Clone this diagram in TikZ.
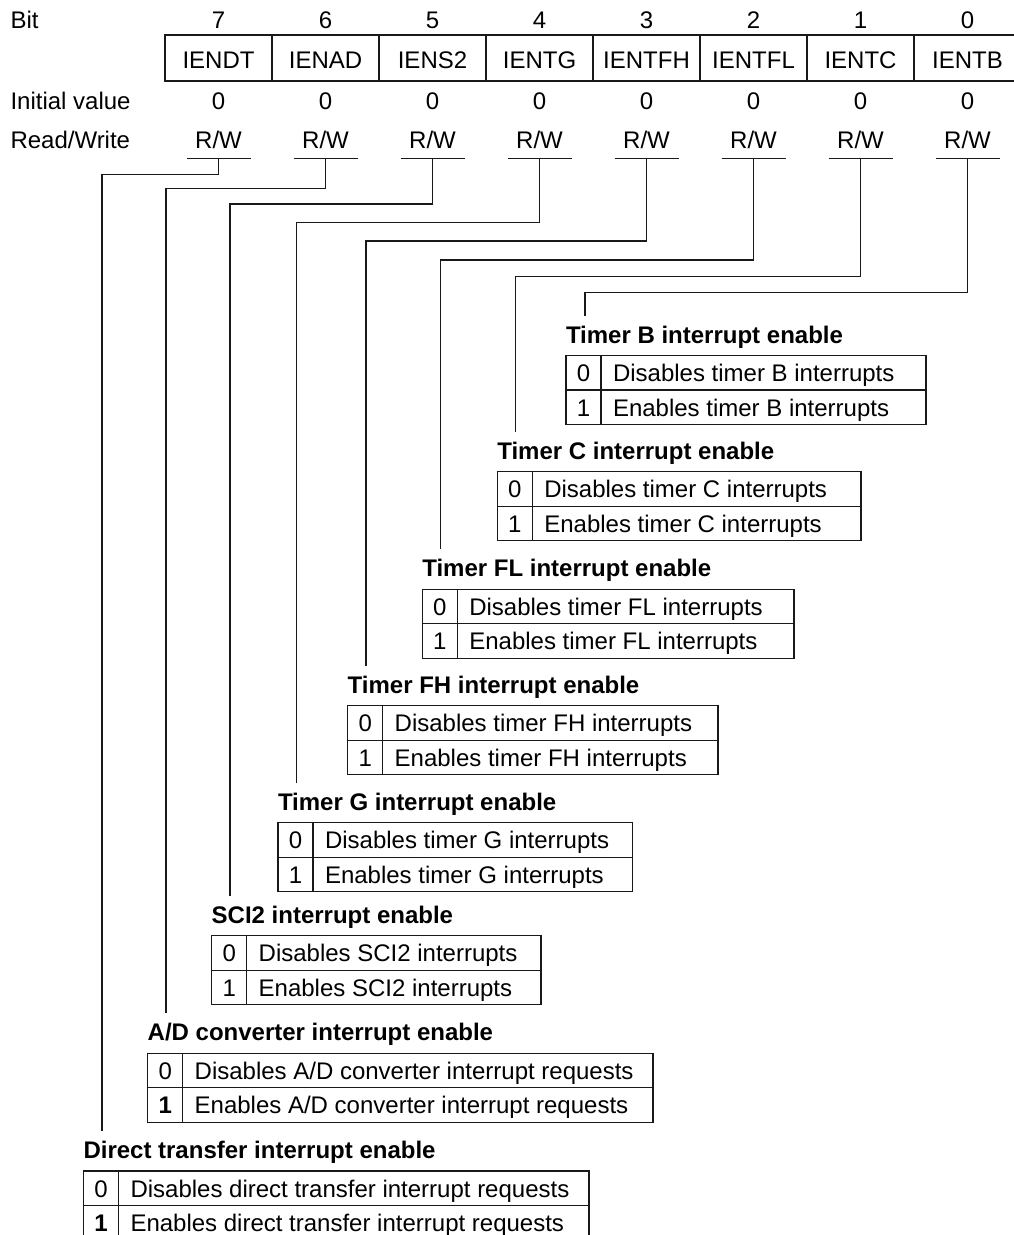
\documentclass[tikz,border=0pt]{standalone}
\usepackage{fontspec}
\setmainfont{Liberation Sans}
\begin{document}
\begin{tikzpicture}[x=1pt,y=-1pt,
  ln/.style={line width=1.2pt,black!90},
  txt/.style={inner sep=0pt,outer sep=0pt,font=\fontsize{24}{28}\selectfont},
  ttl/.style={inner sep=0pt,outer sep=0pt,font=\fontsize{24}{28}\selectfont\bfseries},
  conn/.style={line width=1.2pt,black!90}]
\useasboundingbox (0,0) rectangle (1014,1235);
% register header
\node[txt,anchor=base west] (lbit) at (10.5,28.5) {Bit};
\node[txt,anchor=base west] (linit) at (10.5,109) {Initial value};
\node[txt,anchor=base west] (lrw) at (10.5,148.3) {Read/Write};
\draw[ln] (1014,35) -- (165,35) -- (165,81) -- (1014,81);
\foreach \k in {1,...,7} \draw[ln] (165+107*\k,35) -- (165+107*\k,81);
\foreach \b/\nm [count=\i from 0] in {7/IENDT,6/IENAD,5/IENS2,4/IENTG,3/IENTFH,2/IENTFL,1/IENTC,0/IENTB}{
  \node[txt,anchor=base] (bn\b) at (218.5+107*\i,28.5) {\b};
  \node[txt,anchor=base] (nm\b) at (218.5+107*\i,68.3) {\nm};
  \node[txt,anchor=base] (iv\b) at (218.5+107*\i,109) {0};
  \node[txt,anchor=base] (rw\b) at (218.5+107*\i,148.3) {R/W};
  \draw[ln] (218.5+107*\i-32,158.3) -- (218.5+107*\i+32,158.3);
  \coordinate (u\b) at (218.5+107*\i,158.3);
}
% tables: name, left, top, right, title, row0, row1, one-format
\newcommand\itable[8]{%
  \node[ttl,anchor=base west] (#1t) at (#2,#3-12.5) {#5};
  \draw[ln] (#2,#3) rectangle (#4,#3+69);
  \draw[ln] (#2,#3+34.5) -- (#4,#3+34.5);
  \draw[ln] (#2+35,#3) -- (#2+35,#3+69);
  \node[txt,anchor=base] (#1z) at (#2+17.5,#3+26) {0};
  \node[txt,anchor=base] (#1o) at (#2+17.5,#3+60.5) {#8{1}};
  \node[txt,anchor=base west] (#1a) at (#2+47,#3+26) {#6};
  \node[txt,anchor=base west] (#1b) at (#2+47,#3+60.5) {#7};
}
\itable{t7}{83.5}{1171}{589}{Direct transfer interrupt enable}{Disables direct transfer interrupt requests}{Enables direct transfer interrupt requests}{\bfseries}
\itable{t6}{147.7}{1053.3}{653}{A/D converter interrupt enable}{Disables A/D converter interrupt requests}{Enables A/D converter interrupt requests}{\bfseries}
\itable{t5}{211.7}{935.7}{541}{SCI2 interrupt enable}{Disables SCI2 interrupts}{Enables SCI2 interrupts}{}
\itable{t4}{278}{822.7}{632.5}{Timer G interrupt enable}{Disables timer G interrupts}{Enables timer G interrupts}{}
\itable{t3}{347.7}{705.7}{718}{Timer FH interrupt enable}{Disables timer FH interrupts}{Enables timer FH interrupts}{}
\itable{t2}{422.3}{589.3}{794}{Timer FL interrupt enable}{Disables timer FL interrupts}{Enables timer FL interrupts}{}
\itable{t1}{497.3}{471.7}{861}{Timer C interrupt enable}{Disables timer C interrupts}{Enables timer C interrupts}{}
\itable{t0}{566}{355.5}{926}{Timer B interrupt enable}{Disables timer B interrupts}{Enables timer B interrupts}{}
% connectors: bit / vertical x / horizontal y / end y
\foreach \b/\vx/\hy/\ey in {7/102/174.3/1131, 6/166/188.3/1013.3, 5/230/204/895.7, 4/296.7/222.7/782.7,
  3/366/241/665.7, 2/440.7/260/549.3, 1/515.7/276.7/431.7, 0/585/292.7/315.5}{
  \coordinate (c\b) at (\vx,\hy);
  \coordinate (e\b) at (\vx,\ey);
  \draw[conn] (u\b) |- (c\b) -- (e\b);
}
\end{tikzpicture}
\end{document}
